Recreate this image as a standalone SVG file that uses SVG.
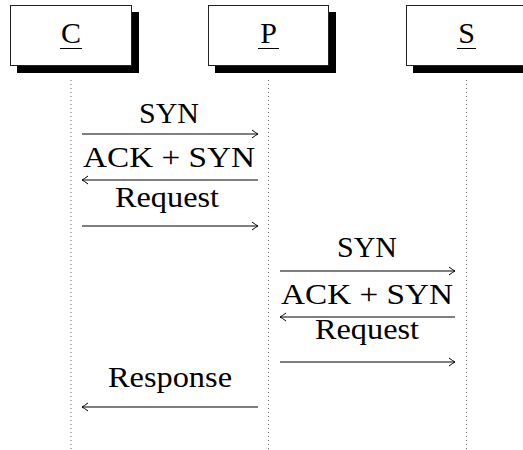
<svg xmlns="http://www.w3.org/2000/svg" width="523" height="450" viewBox="0 0 523 450">
<style>
text{font-family:"Liberation Serif","DejaVu Serif",serif;font-size:30px;fill:#000;text-anchor:middle}
.box{fill:#fff;stroke:#222;stroke-width:1}
.shadow{fill:#000}
.life{stroke:#666;stroke-width:1;stroke-dasharray:1 3}
.msg{stroke:#000;stroke-width:1.2;fill:none}
.ul{stroke:#000;stroke-width:1}
</style>
<defs>
<marker id="ah" viewBox="-7 -5 9 10" markerWidth="9" markerHeight="10" refX="0" refY="0" orient="auto" markerUnits="userSpaceOnUse">
<path d="M-6,-4 Q-2,-1 0,0 Q-2,1 -6,4" fill="none" stroke="#000" stroke-width="1"/>
</marker>
</defs>
<g id="lifelines">
<line class="life" x1="71" y1="80" x2="71" y2="450"/>
<line class="life" x1="268.5" y1="80" x2="268.5" y2="450"/>
<line class="life" x1="466.5" y1="80" x2="466.5" y2="450"/>
</g>
<g id="node-C">
<rect class="shadow" x="17" y="12" width="122" height="61"/>
<rect class="box" x="10.5" y="5.5" width="121" height="60"/>
<text x="71" y="43">C</text>
<line class="ul" x1="60" y1="48.5" x2="82" y2="48.5"/>
</g>
<g id="node-P">
<rect class="shadow" x="215" y="12" width="121" height="61"/>
<rect class="box" x="208.5" y="5.5" width="120" height="60"/>
<text x="268.5" y="43">P</text>
<line class="ul" x1="258" y1="48.5" x2="279" y2="48.5"/>
</g>
<g id="node-S">
<rect class="shadow" x="413" y="12" width="121" height="61"/>
<rect class="box" x="406.5" y="5.5" width="120" height="60"/>
<text x="466.5" y="43">S</text>
<line class="ul" x1="457" y1="48.5" x2="476" y2="48.5"/>
</g>
<g id="connectors">
<text x="169" y="123">SYN</text>
<line class="msg" x1="82" y1="134" x2="258" y2="134" marker-end="url(#ah)"/>
<text x="169" y="167" textLength="172" lengthAdjust="spacingAndGlyphs">ACK + SYN</text>
<line class="msg" x1="258" y1="180" x2="82" y2="180" marker-end="url(#ah)"/>
<text x="167" y="207" textLength="104" lengthAdjust="spacingAndGlyphs">Request</text>
<line class="msg" x1="82" y1="226" x2="258" y2="226" marker-end="url(#ah)"/>
<text x="367" y="257">SYN</text>
<line class="msg" x1="280" y1="271" x2="455" y2="271" marker-end="url(#ah)"/>
<text x="367" y="304" textLength="172" lengthAdjust="spacingAndGlyphs">ACK + SYN</text>
<line class="msg" x1="455" y1="317" x2="280" y2="317" marker-end="url(#ah)"/>
<text x="367" y="339" textLength="104" lengthAdjust="spacingAndGlyphs">Request</text>
<line class="msg" x1="280" y1="362" x2="455" y2="362" marker-end="url(#ah)"/>
<text x="170" y="387" textLength="124" lengthAdjust="spacingAndGlyphs">Response</text>
<line class="msg" x1="258" y1="407" x2="82" y2="407" marker-end="url(#ah)"/>
</g>
</svg>
